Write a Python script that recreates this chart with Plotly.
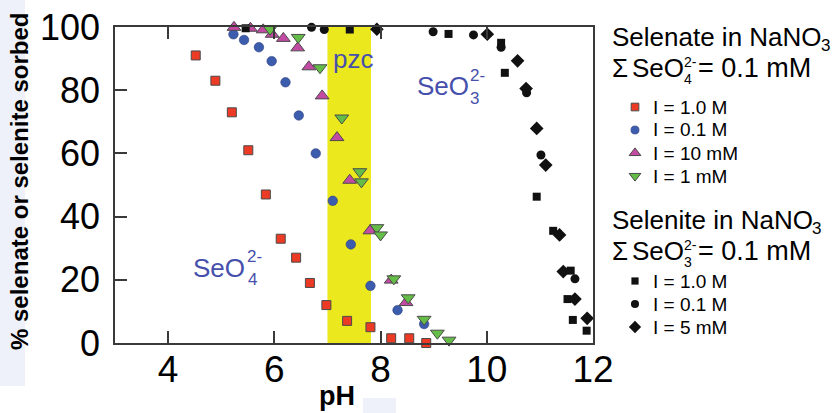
import plotly.graph_objects as go

W, H = 832, 413
FONT = "Liberation Sans, Arial, sans-serif"
LABEL_BLUE = "#4650ac"

# ---- Selenate (SeO4 2-) sorption, NaNO3 background electrolyte ----
ph_se4_1M = [4.52, 4.89, 5.20, 5.51, 5.84, 6.12, 6.41, 6.67, 6.98, 7.37, 7.81, 8.20, 8.54, 8.86]
pct_se4_1M = [91, 83, 73, 61, 47, 33, 27, 19, 12, 7, 5, 1.5, 1.5, 0]

ph_se4_01M = [5.23, 5.43, 5.71, 5.95, 6.21, 6.46, 6.78, 7.10, 7.44, 7.81, 8.32, 8.82]
pct_se4_01M = [97.7, 95.9, 93.6, 89.2, 82.5, 72.0, 60.0, 45.0, 31.2, 18.1, 10.4, 6.0]

ph_se4_10mM = [5.24, 5.55, 5.79, 5.96, 6.17, 6.44, 6.65, 6.90, 7.18, 7.42, 7.80, 8.20, 8.48]
pct_se4_10mM = [99.9, 99.6, 99.1, 97.7, 96.4, 93.4, 87.4, 78.2, 65.0, 51.5, 35.5, 19.9, 12.8]

ph_se4_1mM = [5.92, 6.45, 6.86, 7.27, 7.61, 7.64, 7.93, 8.00, 8.25, 8.52, 8.82, 9.07, 9.29]
pct_se4_1mM = [99.3, 96.7, 87.1, 71.2, 54.2, 51.0, 36.5, 34.2, 20.3, 14.3, 7.5, 3.1, 0.9]

# ---- Selenite (SeO3 2-) sorption, NaNO3 background electrolyte ----
ph_se3_1M = [5.46, 7.42, 9.28, 10.27, 10.34, 10.94, 11.25, 11.52, 11.58, 11.62, 11.88]
pct_se3_1M = [99.6, 99.2, 97.8, 95.0, 85.5, 46.3, 35.5, 13.9, 22.9, 7.3, 3.9]

ph_se3_01M = [6.70, 6.94, 8.99, 9.75, 10.27, 10.75, 11.02, 11.66]
pct_se3_01M = [99.9, 99.2, 98.5, 97.5, 93.6, 79.2, 59.5, 20.3]

ph_se3_5mM = [7.93, 10.01, 10.58, 10.74, 10.94, 11.11, 11.37, 11.44, 11.66, 11.89]
pct_se3_5mM = [99.3, 97.7, 89.3, 80.5, 67.9, 56.3, 34.2, 22.6, 13.9, 7.8]

# point of zero charge band (pH)
pzc_band = [7.0, 7.82]

x_ticks = [4, 6, 8, 10, 12]
y_ticks = [0, 20, 40, 60, 80, 100]

OUTLINE = dict(color="#4a4a4a", width=1)

series = [
    # (x, y, symbol, colour, size, outline, legend label, group)
    (ph_se4_1M, pct_se4_1M, "square", "#ec3a25", 9, OUTLINE, "I = 1.0 M", 1),
    (ph_se4_01M, pct_se4_01M, "circle", "#3c5cad", 9.5, dict(color="#2c3c7c", width=0.6), "I = 0.1 M", 1),
    (ph_se4_10mM, pct_se4_10mM, "triangle-up", "#c24aa2", 12, OUTLINE, "I = 10 mM", 1),
    (ph_se4_1mM, pct_se4_1mM, "triangle-down", "#64bd47", 12, OUTLINE, "I = 1 mM", 1),
    (ph_se3_1M, pct_se3_1M, "square", "#111111", 8, dict(width=0), "I = 1.0 M", 2),
    (ph_se3_01M, pct_se3_01M, "circle", "#111111", 9, dict(width=0), "I = 0.1 M", 2),
    (ph_se3_5mM, pct_se3_5mM, "diamond", "#111111", 10.5, dict(width=0), "I = 5 mM", 2),
]

fig = go.Figure()

for xs, ys, sym, col, size, line, name, grp in series:
    fig.add_trace(go.Scatter(
        x=xs, y=ys, mode="markers", name=name, showlegend=False,
        cliponaxis=False,
        marker=dict(symbol=sym, color=col, size=size, line=line),
        xaxis="x", yaxis="y",
    ))

# legend key symbols, drawn on a pixel-space overlay axis
LEG_KEY_X = 635
LEG_ROWS = {1: [107, 130, 153, 176], 2: [281, 304, 327]}
LEG_TEXT_X = 652
counters = {1: 0, 2: 0}
legend_labels = []
for xs, ys, sym, col, size, line, name, grp in series:
    row_y = LEG_ROWS[grp][counters[grp]]
    counters[grp] += 1
    key_size = size * 0.85 if grp == 1 else size * 0.9
    fig.add_trace(go.Scatter(
        x=[LEG_KEY_X], y=[row_y], mode="markers", showlegend=False, hoverinfo="skip",
        marker=dict(symbol=sym, color=col, size=key_size, line=line),
        xaxis="x2", yaxis="y2", cliponaxis=False,
    ))
    legend_labels.append((name, row_y))


def px_label(x, y, text, size, color="black", weight="normal", anchor="left", angle=0):
    return dict(
        x=x / W, y=1 - y / H, xref="paper", yref="paper", text=text,
        showarrow=False, xanchor=anchor, yanchor="middle", textangle=angle,
        borderpad=0,
        font=dict(family=FONT, size=size, color=color, weight=weight),
    )


# Arial advance widths (em) for the heading strings
ADV = {"S": .667, "e": .556, "l": .222, "n": .556, "a": .556, "t": .278, "i": .222,
       " ": .278, "N": .722, "O": .778}


def text_width(s, size):
    return sum(ADV[c] for c in s) * size


annotations = []
# axis titles
annotations.append(px_label(20, 182, "% selenate or selenite sorbed", 24, weight="bold",
                            anchor="center", angle=-90))
annotations.append(px_label(337, 396, "pH", 27, weight="bold", anchor="center"))

# labels inside the plot
annotations.append(px_label(353, 59, "pzc", 26, color=LABEL_BLUE, anchor="center"))
annotations += [
    px_label(192, 268, "SeO", 26, color=LABEL_BLUE),
    px_label(246, 256, "2-", 17, color=LABEL_BLUE),
    px_label(247, 279, "4", 17, color=LABEL_BLUE),
    px_label(416, 86, "SeO", 26, color=LABEL_BLUE),
    px_label(469, 75, "2-", 17, color=LABEL_BLUE),
    px_label(469, 98, "3", 17, color=LABEL_BLUE),
]

# legend headings
for top, ion, sub in [(37, "Selenate", "4"), (220, "Selenite", "3")]:
    head = f"{ion} in NaNO"
    annotations += [
        px_label(611, top, head, 26),
        px_label(611 + text_width(head, 26) - 1, top + 8, "3", 17),
        px_label(611, top + 31, "\u03a3", 26),
        px_label(631, top + 31, "SeO", 26),
        px_label(683, top + 25, "2-", 14),
        px_label(683, top + 42, sub, 14),
        px_label(697, top + 31, "= 0.1 mM", 27),
    ]

for name, row_y in legend_labels:
    annotations.append(px_label(LEG_TEXT_X, row_y, name, 19))

shapes = [
    # pzc band
    dict(type="rect", xref="x", yref="y", x0=pzc_band[0], x1=pzc_band[1], y0=0, y1=100,
         fillcolor="#ece81e", line=dict(width=0), layer="below"),
    # faint backing panels behind the axis titles
    dict(type="rect", xref="paper", yref="paper", x0=0, x1=25 / W, y0=1 - 386 / H, y1=1,
         fillcolor="#eef1f9", line=dict(width=0), layer="below"),
    dict(type="rect", xref="paper", yref="paper", x0=363 / W, x1=396 / W, y0=0, y1=1 - 398 / H,
         fillcolor="#eef1f9", line=dict(width=0), layer="below"),
]

AX_COL = "#3a3a3a"
fig.update_layout(
    width=W, height=H,
    margin=dict(l=0, r=0, t=0, b=0, autoexpand=False),
    paper_bgcolor="white", plot_bgcolor="rgba(0,0,0,0)",
    showlegend=False,
    font=dict(family=FONT, color="black"),
    xaxis=dict(
        domain=[115 / W, 593 / W], range=[3, 12], tickvals=x_ticks,
        ticks="inside", ticklen=12, tickwidth=1.5, tickcolor=AX_COL,
        showline=True, linecolor=AX_COL, linewidth=1.5, mirror="ticks",
        showgrid=False, zeroline=False, tickfont=dict(size=37, family=FONT),
        ticklabelstandoff=-7, anchor="y",
    ),
    yaxis=dict(
        domain=[1 - 343 / H, 1 - 27 / H], range=[0, 100], tickvals=y_ticks,
        ticks="inside", ticklen=12, tickwidth=1.5, tickcolor=AX_COL,
        showline=True, linecolor=AX_COL, linewidth=1.5, mirror=True,
        showgrid=False, zeroline=False, tickfont=dict(size=36, family=FONT),
        ticklabelstandoff=6, anchor="x",
    ),
    xaxis2=dict(domain=[0, 1], range=[0, W], visible=False, anchor="y2", fixedrange=True),
    yaxis2=dict(domain=[0, 1], range=[H, 0], visible=False, anchor="x2", fixedrange=True),
    annotations=annotations,
    shapes=shapes,
)

fig.write_html("out.html")
